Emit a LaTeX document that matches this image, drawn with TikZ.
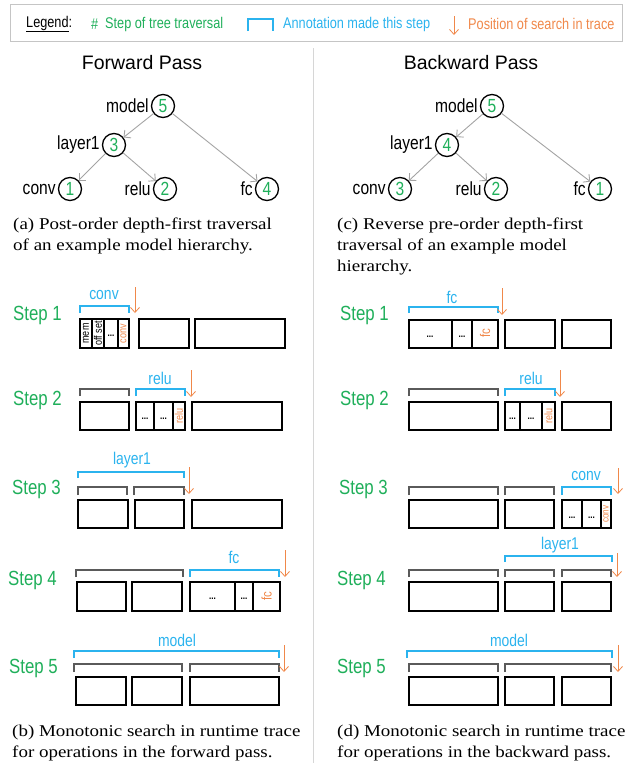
\documentclass[tikz,border=0pt]{standalone}
\usepackage{fontspec}
\setsansfont{Liberation Sans}
\newfontfamily\narrowsans[FakeStretch=0.82]{Liberation Sans}
\newfontfamily\capserif[FakeStretch=1.15]{Liberation Serif}
\usetikzlibrary{arrows.meta,positioning}
\definecolor{passgreen}{HTML}{1FAF5A}
\definecolor{annotblue}{HTML}{2BB3EE}
\definecolor{searchorange}{HTML}{F0884A}
\definecolor{bracketgray}{HTML}{5A5A5A}
\definecolor{edgegray}{HTML}{A3A3A3}
\definecolor{rulegray}{HTML}{D6D6D6}
\newcommand{\fsz}[1]{\fontsize{#1}{#1}\selectfont}

\begin{document}
\begin{tikzpicture}[x=1pt, y=-1pt,
  tnode/.style={circle, draw, line width=1.3pt, minimum size=23pt, inner sep=0pt,
    text=passgreen, font=\narrowsans\fsz{19}},
  tlabel/.style={inner sep=0pt, font=\narrowsans\fsz{19}},
  tedge/.style={edgegray, line width=0.9pt, -{Straight Barb[length=5pt,width=10pt]}},
  passtitle/.style={font=\sffamily\fsz{19.5}},
  subcap/.style={font=\capserif\fontsize{16.5}{21}\selectfont, align=left, anchor=base west, inner sep=0pt},
  steplabel/.style={text=passgreen, font=\narrowsans\fsz{20.5}, anchor=west, inner sep=0pt},
  legtext/.style={font=\narrowsans\fsz{15.5}, anchor=west, inner sep=0pt},
  slot/.style={line width=1.6pt},
  divider/.style={line width=1.2pt},
  oldspan/.style={bracketgray, line width=1.1pt},
  newspan/.style={annotblue, line width=1.1pt},
  spanname/.style={text=annotblue, font=\narrowsans\fsz{17}},
  search/.style={searchorange, line width=0.8pt, -{Straight Barb[length=5pt,width=9pt]}},
  celltext/.style={rotate=90, inner sep=0pt, font=\narrowsans\fsz{11}},
  dots/.style={inner sep=0pt, font=\narrowsans\bfseries\fsz{10}}]

\useasboundingbox (0,0) rectangle (628,763);

% ================= legend =================
\draw[rulegray!80!gray, line width=0.8pt] (10,4) rectangle (622,41);
\node[legtext] (leg) at (26,24) {\underline{Legend}:};
\node[legtext, text=passgreen] (leghash) at (91,24) {\#};
\node[legtext, text=passgreen] (legstep) at (105,24) {Step of tree traversal};
\draw[newspan] (248,31) -- (248,19) -- (273,19) -- (273,31);
\node[legtext, text=annotblue] (legannot) at (283,24) {Annotation made this step};
\draw[search] (454,16) -- (454,35);
\node[legtext, text=searchorange] (legsearch) at (468,24) {Position of search in trace};

% panel separator
\draw[rulegray, line width=1pt] (313,48) -- (313,763);

% ================= forward tree =================
\node[passtitle] (ftitle) at (142,63) {Forward Pass};
\node[tnode] (fmodel) at (163,106) {5};
\node[tnode] (flayer) at (114,145) {3};
\node[tnode] (fconv) at (70,189) {1};
\node[tnode] (frelu) at (165,189) {2};
\node[tnode] (ffc) at (267,189) {4};
\node[tlabel, left=2pt of fmodel] (fmodeln) {model};
\node[tlabel, left=2pt of flayer] (flayern) {layer1};
\node[tlabel, left=2pt of fconv] (fconvn) {conv};
\node[tlabel, left=2pt of frelu] (freluen) {relu};
\node[tlabel, left=2pt of ffc] (ffcn) {fc};
\draw[tedge] (fmodel) -- (flayer);
\draw[tedge] (flayer) -- (fconv);
\draw[tedge] (flayer) -- (frelu);
\draw[tedge] (fmodel) -- (ffc);
\node[subcap] (capa) at (13,250) {(a) Post-order depth-first traversal\\of an example model hierarchy.};

% ================= backward tree =================
\node[passtitle] (btitle) at (471,63) {Backward Pass};
\node[tnode] (bmodel) at (492,106) {5};
\node[tnode] (blayer) at (447,145) {4};
\node[tnode] (bconv) at (400,189) {3};
\node[tnode] (brelu) at (496,189) {2};
\node[tnode] (bfc) at (600,189) {1};
\node[tlabel, left=2pt of bmodel] (bmodeln) {model};
\node[tlabel, left=2pt of blayer] (blayern) {layer1};
\node[tlabel, left=2pt of bconv] (bconvn) {conv};
\node[tlabel, left=2pt of brelu] (breluen) {relu};
\node[tlabel, left=2pt of bfc] (bfcn) {fc};
\draw[tedge] (bmodel) -- (blayer);
\draw[tedge] (blayer) -- (bconv);
\draw[tedge] (blayer) -- (brelu);
\draw[tedge] (bmodel) -- (bfc);
\node[subcap] (capc) at (337,271) {(c) Reverse pre-order depth-first\\traversal of an example model\\hierarchy.};

% ================= forward trace =================
% step 1
\node[steplabel] (fs1) at (13,315) {Step 1};
\draw[slot] (80,319) rectangle (129,348);
\draw[slot] (139,319) rectangle (189,348);
\draw[slot] (195,319) rectangle (285,348);
\draw[divider] (92,319) -- (92,348) (104,319) -- (104,348) (118,319) -- (118,348);
\node[celltext] (f1mem) at (86,333.5) {mem};
\node[celltext] (f1off) at (98,333.5) {off set};
\node[dots] (f1dots) at (111,336) {...};
\node[celltext, text=searchorange] (f1op) at (123.5,333.5) {conv};
\draw[newspan] (80,313) -- (80,306) -- (129,306) -- (129,313);
\node[spanname] (f1name) at (104,295) {conv};
\draw[search] (135,287) -- (135,313);

% step 2
\node[steplabel] (fs2) at (13,400) {Step 2};
\draw[slot] (80,402) rectangle (129,430);
\draw[slot] (136,402) rectangle (185,430);
\draw[slot] (192,402) rectangle (282,430);
\draw[divider] (154,402) -- (154,430) (173,402) -- (173,430);
\node[dots] (f2dotsa) at (145,419) {...};
\node[dots] (f2dotsb) at (163.5,419) {...};
\node[celltext, text=searchorange] (f2op) at (179,416) {relu};
\draw[oldspan] (80,396) -- (80,389) -- (129,389) -- (129,396);
\draw[newspan] (136,396) -- (136,389) -- (185,389) -- (185,396);
\node[spanname] (f2name) at (160,378) {relu};
\draw[search] (191,370) -- (191,397);

% step 3
\node[steplabel] (fs3) at (12,489) {Step 3};
\draw[slot] (78,500) rectangle (128,528);
\draw[slot] (135,500) rectangle (184,528);
\draw[slot] (192,500) rectangle (282,528);
\draw[oldspan] (78,495) -- (78,487) -- (127,487) -- (127,495);
\draw[oldspan] (134,495) -- (134,487) -- (184,487) -- (184,495);
\draw[newspan] (78,478) -- (78,472) -- (184,472) -- (184,478);
\node[spanname] (f3name) at (132,460) {layer1};
\draw[search] (189,467) -- (189,494);

% step 4
\node[steplabel] (fs4) at (8,580) {Step 4};
\draw[slot] (77,582) rectangle (126,611);
\draw[slot] (132,582) rectangle (182,611);
\draw[slot] (190,582) rectangle (280,611);
\draw[divider] (235,582) -- (235,611) (253,582) -- (253,611);
\node[dots] (f4dotsa) at (212.5,599) {...};
\node[dots] (f4dotsb) at (244,599) {...};
\node[celltext, text=searchorange, font=\narrowsans\fsz{14}] (f4op) at (266.5,596.5) {fc};
\draw[oldspan] (76,577) -- (76,570) -- (183,570) -- (183,577);
\draw[newspan] (190,577) -- (190,570) -- (279,570) -- (279,577);
\node[spanname] (f4name) at (234,557) {fc};
\draw[search] (285,550) -- (285,577);

% step 5
\node[steplabel] (fs5) at (9,668) {Step 5};
\draw[slot] (76,677) rectangle (126,705);
\draw[slot] (132,677) rectangle (182,705);
\draw[slot] (190,677) rectangle (279,705);
\draw[newspan] (74,658) -- (74,651) -- (279,651) -- (279,658);
\draw[oldspan] (74,672) -- (74,664) -- (182,664) -- (182,672);
\draw[oldspan] (190,672) -- (190,664) -- (279,664) -- (279,672);
\node[spanname] (f5name) at (177,640) {model};
\draw[search] (284,645) -- (284,672);
\node[subcap] (capb) at (12,757) {(b) Monotonic search in runtime trace\\for operations in the forward pass.};

% ================= backward trace =================
% step 1
\node[steplabel] (bs1) at (340,315) {Step 1};
\draw[slot] (409,320) rectangle (498,348);
\draw[slot] (505,320) rectangle (555,348);
\draw[slot] (562,320) rectangle (611,348);
\draw[divider] (452,320) -- (452,348) (472,320) -- (472,348);
\node[dots] (b1dotsa) at (430,337) {...};
\node[dots] (b1dotsb) at (462,337) {...};
\node[celltext, text=searchorange, font=\narrowsans\fsz{14}] (b1op) at (485,333) {fc};
\draw[newspan] (409,313) -- (409,307) -- (498,307) -- (498,313);
\node[spanname] (b1name) at (452,297) {fc};
\draw[search] (502,288) -- (502,315);

% step 2
\node[steplabel] (bs2) at (340,400) {Step 2};
\draw[slot] (409,402) rectangle (498,430);
\draw[slot] (505,402) rectangle (555,430);
\draw[slot] (562,402) rectangle (611,430);
\draw[divider] (520,402) -- (520,430) (542,402) -- (542,430);
\node[dots] (b2dotsa) at (512.5,419) {...};
\node[dots] (b2dotsb) at (531,419) {...};
\node[celltext, text=searchorange] (b2op) at (548.5,416) {relu};
\draw[oldspan] (409,396) -- (409,389) -- (498,389) -- (498,396);
\draw[newspan] (505,396) -- (505,389) -- (555,389) -- (555,396);
\node[spanname] (b2name) at (531,378) {relu};
\draw[search] (560,370) -- (560,397);

% step 3
\node[steplabel] (bs3) at (339,489) {Step 3};
\draw[slot] (409,500) rectangle (498,528);
\draw[slot] (505,500) rectangle (554,528);
\draw[slot] (562,500) rectangle (611,528);
\draw[divider] (582,500) -- (582,528) (601,500) -- (601,528);
\node[dots] (b3dotsa) at (572,518) {...};
\node[dots] (b3dotsb) at (591.5,518) {...};
\node[celltext, text=searchorange, font=\narrowsans\fsz{10}] (b3op) at (606,514) {conv};
\draw[oldspan] (409,495) -- (409,487) -- (498,487) -- (498,495);
\draw[oldspan] (505,495) -- (505,487) -- (554,487) -- (554,495);
\draw[newspan] (562,495) -- (562,487) -- (611,487) -- (611,495);
\node[spanname] (b3name) at (586,476) {conv};
\draw[search] (618,468) -- (618,494);

% step 4
\node[steplabel] (bs4) at (337,580) {Step 4};
\draw[slot] (409,582) rectangle (498,611);
\draw[slot] (505,582) rectangle (554,611);
\draw[slot] (562,582) rectangle (611,611);
\draw[newspan] (505,562) -- (505,556) -- (612,556) -- (612,562);
\draw[oldspan] (409,577) -- (409,570) -- (498,570) -- (498,577);
\draw[oldspan] (505,577) -- (505,570) -- (554,570) -- (554,577);
\draw[oldspan] (562,577) -- (562,570) -- (611,570) -- (611,577);
\node[spanname] (b4name) at (560,545) {layer1};
\draw[search] (617,553) -- (617,577);

% step 5
\node[steplabel] (bs5) at (337,668) {Step 5};
\draw[slot] (409,677) rectangle (498,705);
\draw[slot] (505,677) rectangle (554,705);
\draw[slot] (562,677) rectangle (611,705);
\draw[newspan] (407,658) -- (407,651) -- (612,651) -- (612,658);
\draw[oldspan] (409,672) -- (409,664) -- (498,664) -- (498,672);
\draw[oldspan] (505,672) -- (505,664) -- (611,664) -- (611,672);
\node[spanname] (b5name) at (509,640) {model};
\draw[search] (618,645) -- (618,672);
\node[subcap] (capd) at (337,757) {(d) Monotonic search in runtime trace\\for operations in the backward pass.};

\end{tikzpicture}
\end{document}
